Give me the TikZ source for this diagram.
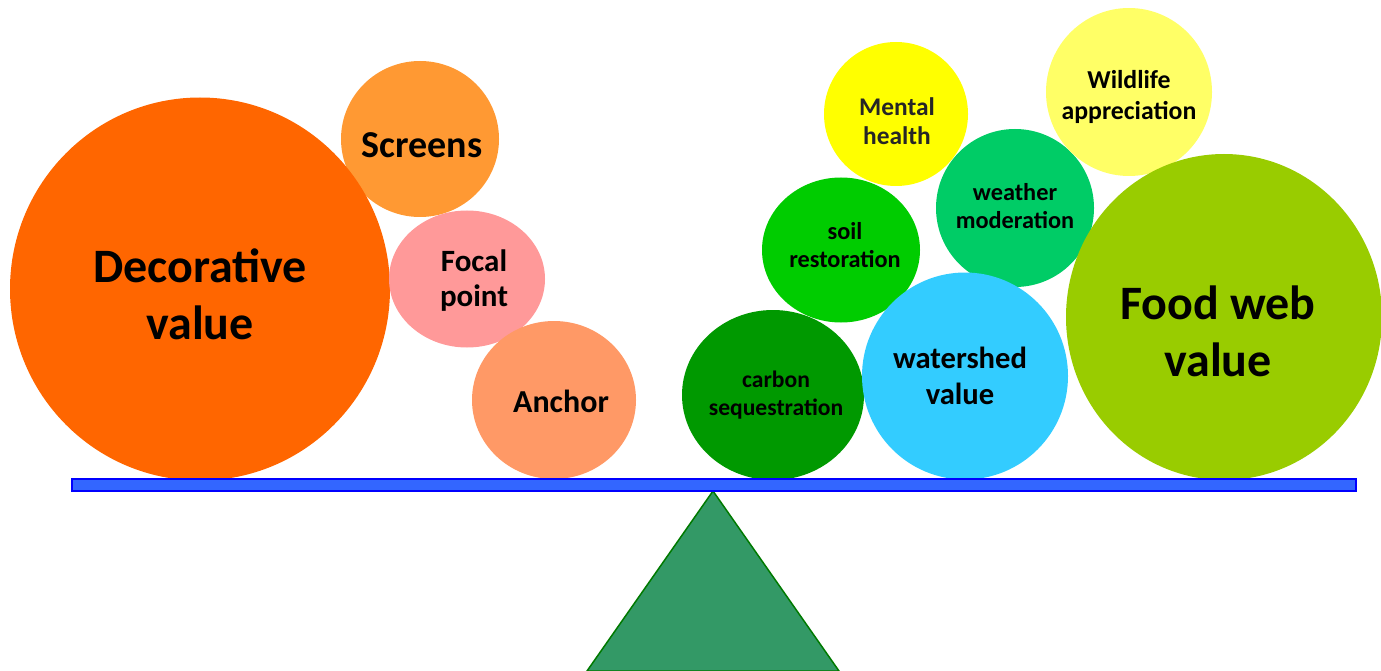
\documentclass[tikz,border=0pt]{standalone}
\usepackage{fontspec}
\setmainfont{Carlito}
\usetikzlibrary{shapes.geometric}
\definecolor{cDeco}{HTML}{FF6600}
\definecolor{cScreen}{HTML}{FF9933}
\definecolor{cFocal}{HTML}{FF9999}
\definecolor{cAnchor}{HTML}{FF9966}
\definecolor{cCarbon}{HTML}{009900}
\definecolor{cSoil}{HTML}{00CC00}
\definecolor{cMental}{HTML}{FFFF00}
\definecolor{cWeather}{HTML}{00CC66}
\definecolor{cWild}{HTML}{FFFF66}
\definecolor{cWater}{HTML}{33CCFF}
\definecolor{cFood}{HTML}{99CC00}
\definecolor{cBar}{HTML}{3366FF}
\definecolor{cBarLine}{HTML}{0000FF}
\definecolor{cTri}{HTML}{339966}
\definecolor{cTriLine}{HTML}{007A00}
\definecolor{cGrayText}{HTML}{262626}
\tikzset{
  bubble/.style={ellipse, draw=none, inner sep=0pt, outer sep=0pt},
  lbl/.style={align=center, font=\bfseries, text=black, inner sep=0pt},
}
\begin{document}
\begin{tikzpicture}[x=1pt,y=-1pt]
\useasboundingbox (0,0) rectangle (1381,671);
% bubbles (back to front)
\node[bubble, fill=cScreen, minimum width=158pt, minimum height=156pt] (screensB) at (420,139) {};
\node[bubble, fill=cDeco, minimum width=380pt, minimum height=383pt] (decoB) at (200,289) {};
\node[bubble, fill=cFocal, minimum width=156pt, minimum height=137pt] (focalB) at (467,279) {};
\node[bubble, fill=cAnchor, minimum width=164pt, minimum height=158pt] (anchorB) at (554,400) {};
\node[bubble, fill=cMental, minimum width=144pt, minimum height=144pt] (mentalB) at (896,114) {};
\node[bubble, fill=cWeather, minimum width=158pt, minimum height=158pt] (weatherB) at (1015,208) {};
\node[bubble, fill=cWild, minimum width=166pt, minimum height=168pt] (wildB) at (1129,92) {};
\node[bubble, fill=cSoil, minimum width=158pt, minimum height=145pt] (soilB) at (841,250) {};
\node[bubble, fill=cCarbon, minimum width=182pt, minimum height=170pt] (carbonB) at (773,395) {};
\node[bubble, fill=cWater, minimum width=206pt, minimum height=207pt] (waterB) at (965,376) {};
\node[bubble, fill=cFood, minimum width=316pt, minimum height=326pt] (foodB) at (1224,317) {};
% labels
\node[lbl, font=\bfseries\fontsize{48}{57}\selectfont] (decoT) at (200,294) {Decorative\\value};
\node[lbl, font=\bfseries\fontsize{38}{40}\selectfont] (screensT) at (422,145) {Screens};
\node[lbl, font=\bfseries\fontsize{31}{35}\selectfont] (focalT) at (474,281) {Focal\\point};
\node[lbl, font=\bfseries\fontsize{32}{36}\selectfont] (anchorT) at (561,401) {Anchor};
\node[lbl, font=\bfseries\fontsize{23.6}{28.5}\selectfont] (carbonT) at (776,395) {carbon\\sequestration};
\node[lbl, font=\bfseries\fontsize{30.6}{36}\selectfont] (waterT) at (960,376) {watershed\\value};
\node[lbl, font=\bfseries\fontsize{24.3}{28.5}\selectfont] (soilT) at (845,245) {soil\\restoration};
\node[lbl, font=\bfseries\fontsize{25.4}{29}\selectfont, text=cGrayText] (mentalT) at (897,121) {Mental\\health};
\node[lbl, font=\bfseries\fontsize{24.3}{28.5}\selectfont] (weatherT) at (1015,206) {weather\\moderation};
\node[lbl, font=\bfseries\fontsize{25.8}{31}\selectfont] (wildT) at (1129,97) {Wildlife\\appreciation};
\node[lbl, font=\bfseries\fontsize{48}{57}\selectfont] (foodT) at (1218,331) {Food web\\value};
% fulcrum and beam
\coordinate (apex) at (713,491);
\coordinate (baseL) at (587,671);
\coordinate (baseR) at (839,671);
\filldraw[fill=cTri, draw=cTriLine, line width=1.5pt, line join=miter] (apex) -- (baseL) -- (baseR) -- cycle;
\node[draw=cBarLine, fill=cBar, line width=2pt, rectangle, inner sep=0pt, outer sep=0pt,
      minimum width=1284pt, minimum height=12pt] (beam) at (713.5,484.5) {};
\end{tikzpicture}
\end{document}
